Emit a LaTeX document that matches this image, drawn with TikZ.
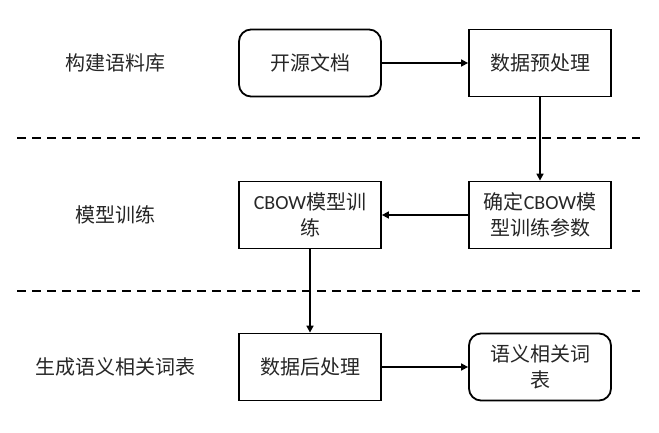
\documentclass[tikz,border=0pt]{standalone}
\usepackage{fontspec}
\setmainfont{Carlito}
\newfontfamily\cjk{Noto Sans CJK SC}
\usetikzlibrary{arrows.meta}
\begin{document}
\begin{tikzpicture}[x=1pt,y=-1pt,
  every node/.style={font=\fontsize{20}{26}\selectfont, inner sep=0pt, text=black!85},
  proc/.style={draw=black, line width=1.8pt, minimum width=142pt, minimum height=67pt, align=center},
  roundproc/.style={proc, rounded corners=12pt},
  lbl/.style={},
  conn/.style={line width=1.6pt, -{Triangle[length=7pt,width=7pt]}},
  sep/.style={line width=1.6pt, dash pattern=on 9pt off 6pt}]
\useasboundingbox (0,0) rectangle (659,433);
% left labels
\node[lbl] (l1) at (115,63) {\cjk 构建语料库};
\node[lbl] (l2) at (115,215) {\cjk 模型训练};
\node[lbl] (l3) at (115,367) {\cjk 生成语义相关词表};
% separators
\coordinate (s1a) at (17,138); \coordinate (s1b) at (640,138);
\coordinate (s2a) at (17,291); \coordinate (s2b) at (640,291);
\draw[sep] (s1a) -- (s1b);
\draw[sep] (s2a) -- (s2b);
% boxes
\node[roundproc] (a) at (310,63) {\cjk 开源文档};
\node[proc] (b) at (540,63) {\cjk 数据预处理};
\node[proc] (c) at (540,215) {{\cjk 确定}CBOW{\cjk 模}\\{\cjk 型训练参数}};
\node[proc] (d) at (310,215) {CBOW{\cjk 模型训}\\{\cjk 练}};
\node[proc] (e) at (310,367) {\cjk 数据后处理};
\node[roundproc] (f) at (540,367) {{\cjk 语义相关词}\\{\cjk 表}};
% connectors
\draw[conn] (a) -- (b);
\draw[conn] (b) -- (c);
\draw[conn] (c) -- (d);
\draw[conn] (d) -- (e);
\draw[conn] (e) -- (f);
\end{tikzpicture}
\end{document}
